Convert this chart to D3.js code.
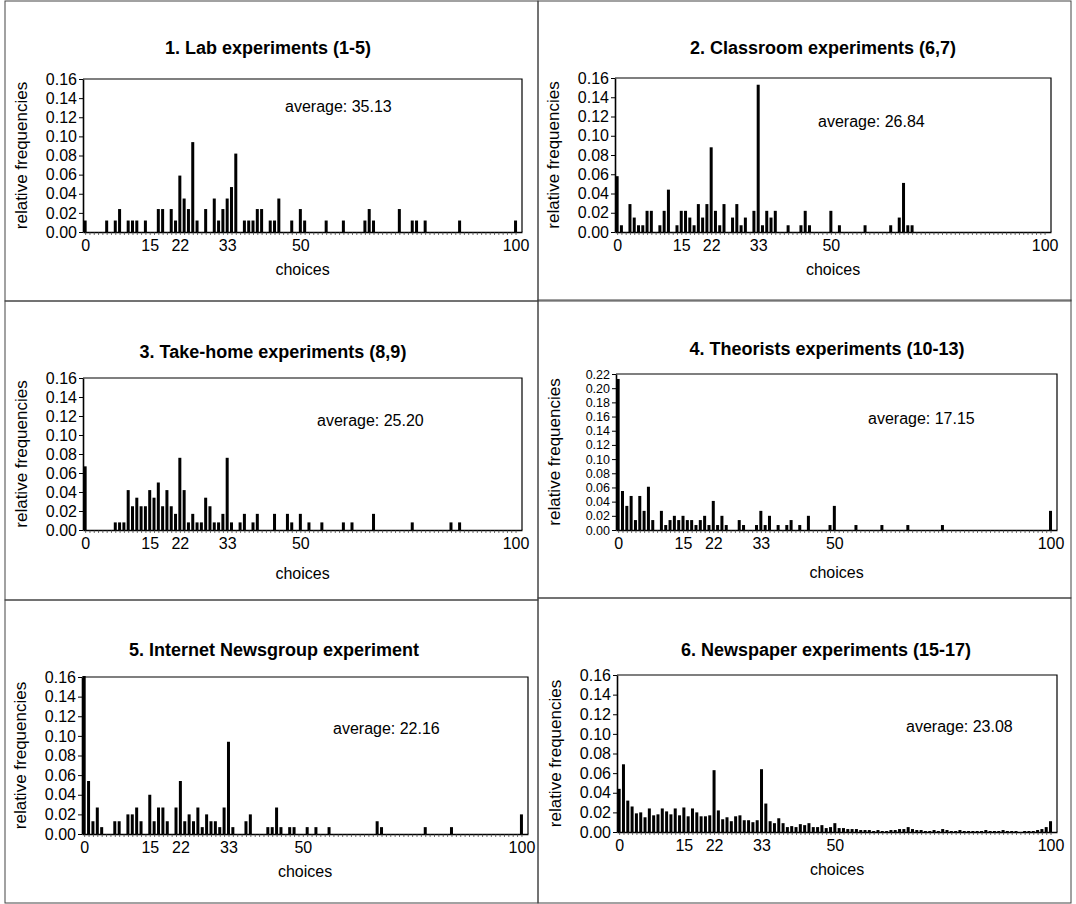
<!DOCTYPE html>
<html>
<head>
<meta charset="utf-8">
<script src="https://cdnjs.cloudflare.com/ajax/libs/d3/7.8.5/d3.min.js"></script>
<style>
  body { margin: 0; background: #fff; }
  svg { font-family: "Liberation Sans", Arial, Helvetica, sans-serif; }
  .axis text { font-size: 16px; fill: #000; }
  .axis .domain { stroke: #000; stroke-width: 1.6; }
  .xaxis .tick line { stroke: #333; stroke-width: 0.7; }
  .yaxis .tick line { stroke: #000; stroke-width: 1; }
</style>
</head>
<body>
<script>
// text of the six panels
var titles = ["1. Lab experiments (1-5)", "2. Classroom experiments (6,7)",
              "3. Take-home experiments (8,9)", "4. Theorists experiments (10-13)",
              "5. Internet Newsgroup experiment", "6. Newspaper experiments (15-17)"];
var averages = ["35.13", "26.84", "25.20", "17.15", "22.16", "23.08"];
var xLabels = [0, 15, 22, 33, 50, 100];
var yTicks16 = [0, 0.02, 0.04, 0.06, 0.08, 0.10, 0.12, 0.14, 0.16];
var yTicks22 = [0, 0.02, 0.04, 0.06, 0.08, 0.10, 0.12, 0.14, 0.16, 0.18, 0.20, 0.22];

// 1. lab experiments
var labChoices = [0, 5, 7, 8, 10, 11, 12, 14, 17, 18, 20, 21, 22, 23, 24, 25, 26, 28, 30, 31, 32, 33, 34, 35,
                  37, 38, 39, 40, 41, 43, 44, 45, 48, 50, 51, 56, 60, 65, 66, 67, 73, 76, 77, 79, 87, 100];
var labFreq = [0.012, 0.012, 0.012, 0.024, 0.012, 0.012, 0.012, 0.012, 0.024, 0.024, 0.024, 0.012, 0.059, 0.035,
               0.024, 0.094, 0.012, 0.024, 0.035, 0.012, 0.024, 0.035, 0.047, 0.082, 0.012, 0.012, 0.012, 0.024,
               0.024, 0.012, 0.012, 0.035, 0.012, 0.024, 0.012, 0.012, 0.012, 0.012, 0.024, 0.012, 0.024, 0.012,
               0.012, 0.012, 0.012, 0.012];

// 2. classroom experiments
var classChoices = [0, 1, 3, 4, 5, 6, 7, 8, 10, 11, 12, 14, 15, 16, 17, 18, 19, 20, 21, 22, 23, 24, 25, 27, 28,
                    29, 30, 32, 33, 34, 35, 36, 37, 40, 43, 44, 45, 50, 52, 58, 64, 66, 67, 68, 69];
var classFreq = [0.058, 0.007, 0.029, 0.015, 0.007, 0.007, 0.022, 0.022, 0.007, 0.022, 0.044, 0.007, 0.022, 0.022,
                 0.015, 0.007, 0.029, 0.015, 0.029, 0.088, 0.022, 0.007, 0.029, 0.015, 0.029, 0.007, 0.015, 0.022,
                 0.153, 0.007, 0.022, 0.015, 0.022, 0.007, 0.007, 0.022, 0.007, 0.022, 0.007, 0.007, 0.007, 0.015,
                 0.051, 0.007, 0.007];

// 3. take-home experiments
var homeChoices = [0, 7, 8, 9, 10, 11, 12, 13, 14, 15, 16, 17, 18, 19, 20, 21, 22, 23, 24, 25, 26, 27, 28, 29, 30,
                   31, 32, 33, 34, 36, 37, 39, 40, 44, 47, 48, 50, 52, 55, 60, 62, 67, 76, 85, 87];
var homeFreq = [0.067, 0.008, 0.008, 0.008, 0.042, 0.025, 0.034, 0.025, 0.025, 0.042, 0.034, 0.050, 0.025, 0.042,
                0.025, 0.017, 0.076, 0.042, 0.008, 0.017, 0.008, 0.008, 0.034, 0.025, 0.008, 0.008, 0.017, 0.076,
                0.008, 0.008, 0.017, 0.008, 0.017, 0.017, 0.017, 0.008, 0.017, 0.008, 0.008, 0.008, 0.008, 0.017,
                0.008, 0.008, 0.008];

// 4. theorists experiments
var theoChoices = [0, 1, 2, 3, 4, 5, 6, 7, 8, 10, 11, 12, 13, 14, 15, 16, 17, 18, 19, 20, 21, 22, 23, 24, 25,
                   28, 29, 32, 33, 34, 35, 37, 39, 40, 42, 44, 49, 50, 55, 61, 67, 75, 100];
var theoFreq = [0.213, 0.055, 0.034, 0.048, 0.014, 0.048, 0.027, 0.061, 0.014, 0.027, 0.007, 0.014, 0.020, 0.014,
                0.020, 0.014, 0.014, 0.007, 0.014, 0.020, 0.007, 0.041, 0.007, 0.020, 0.007, 0.014, 0.007, 0.007,
                0.027, 0.007, 0.020, 0.007, 0.007, 0.014, 0.007, 0.020, 0.007, 0.034, 0.007, 0.007, 0.007, 0.007,
                0.027];

// 5. internet newsgroup experiment
var netChoices = [0, 1, 2, 3, 4, 7, 8, 10, 11, 12, 13, 15, 16, 17, 18, 19, 21, 22, 23, 24, 25, 26, 27, 28, 29, 30,
                  31, 32, 33, 34, 37, 38, 42, 43, 44, 45, 47, 48, 51, 53, 56, 67, 68, 78, 84, 100];
var netFreq = [0.161, 0.054, 0.013, 0.027, 0.007, 0.013, 0.013, 0.020, 0.020, 0.027, 0.013, 0.040, 0.013, 0.027,
               0.027, 0.013, 0.027, 0.054, 0.013, 0.020, 0.013, 0.027, 0.007, 0.020, 0.013, 0.013, 0.007, 0.027,
               0.094, 0.007, 0.013, 0.020, 0.007, 0.007, 0.027, 0.007, 0.007, 0.007, 0.007, 0.007, 0.007, 0.013,
               0.007, 0.007, 0.007, 0.020];

// 6. newspaper experiments
var paperChoices = [0, 1, 2, 3, 4, 5, 6, 7, 8, 9, 10, 11, 12, 13, 14, 15, 16, 17, 18, 19, 20, 21, 22, 23, 24, 25,
                    26, 27, 28, 29, 30, 31, 32, 33, 34, 35, 36, 37, 38, 39, 40, 41, 42, 43, 44, 45, 46, 47, 48, 49,
                    50, 51, 52, 53, 54, 55, 56, 57, 58, 59, 60, 61, 62, 63, 64, 65, 66, 67, 68, 69, 70, 71, 72, 73,
                    74, 75, 76, 77, 78, 79, 80, 81, 82, 83, 84, 85, 86, 87, 88, 89, 90, 91, 92, 94, 95, 96, 97, 98,
                    99, 100];
var paperFreq = [0.044, 0.069, 0.032, 0.026, 0.019, 0.020, 0.015, 0.024, 0.017, 0.018, 0.024, 0.021, 0.018, 0.024,
                 0.017, 0.025, 0.016, 0.024, 0.020, 0.016, 0.016, 0.017, 0.063, 0.022, 0.013, 0.015, 0.011, 0.016,
                 0.017, 0.012, 0.012, 0.010, 0.012, 0.064, 0.029, 0.011, 0.009, 0.014, 0.009, 0.005, 0.006, 0.005,
                 0.008, 0.007, 0.009, 0.005, 0.005, 0.007, 0.004, 0.005, 0.009, 0.004, 0.004, 0.003, 0.003, 0.003,
                 0.002, 0.002, 0.002, 0.001, 0.002, 0.001, 0.001, 0.002, 0.002, 0.003, 0.003, 0.005, 0.003, 0.002,
                 0.002, 0.001, 0.001, 0.002, 0.001, 0.003, 0.002, 0.001, 0.001, 0.002, 0.001, 0.001, 0.001, 0.001,
                 0.001, 0.002, 0.001, 0.001, 0.001, 0.002, 0.001, 0.001, 0.001, 0.001, 0.001, 0.001, 0.002, 0.003,
                 0.005, 0.011];

var panels = [
  {choices: labChoices, freq: labFreq, yTicks: yTicks16},
  {choices: classChoices, freq: classFreq, yTicks: yTicks16},
  {choices: homeChoices, freq: homeFreq, yTicks: yTicks16},
  {choices: theoChoices, freq: theoFreq, yTicks: yTicks22},
  {choices: netChoices, freq: netFreq, yTicks: yTicks16},
  {choices: paperChoices, freq: paperFreq, yTicks: yTicks16}
];

// where each panel sits on the page (yFont: size of the y tick labels)
var layout = [
  {box: [5, 1, 533, 300],   plot: [83, 79, 439, 153],  title: [268, 54],  avg: [285, 112], ch: 43, yFont: 16},
  {box: [538, 1, 533, 300], plot: [615, 78, 436, 154], title: [823, 54],  avg: [818, 127], ch: 43, yFont: 16},
  {box: [5, 301, 533, 299], plot: [83, 378, 439, 152], title: [273, 358], avg: [317, 426], ch: 49, yFont: 16},
  {box: [538, 300, 533, 298], plot: [616, 374, 441, 156], title: [827, 355], avg: [868, 424], ch: 48, yFont: 12.5},
  {box: [5, 600, 533, 303], plot: [82, 677, 446, 157], title: [274, 656], avg: [333, 734], ch: 43, yFont: 16},
  {box: [538, 598, 533, 305], plot: [617, 675, 440, 157], title: [826, 656], avg: [906, 732], ch: 43, yFont: 16}
];

var svg = d3.select("body")
  .append("svg")
   .attr("width", 1076)
   .attr("height", 904);

panels.forEach(function(p, i) {
  var L = layout[i];
  var width = L.plot[2];
  var height = L.plot[3];

  // panel frame
  svg.append("rect")
    .attr("x", L.box[0]).attr("y", L.box[1])
    .attr("width", L.box[2]).attr("height", L.box[3])
    .attr("fill", "none")
    .attr("stroke", "#444")
    .attr("stroke-width", 1);

  // title
  svg.append("text")
    .attr("x", L.title[0]).attr("y", L.title[1])
    .attr("text-anchor", "middle")
    .style("font-size", "18px")
    .style("font-weight", "bold")
    .text(titles[i]);

  var g = svg.append("g")
    .attr("transform", "translate(" + L.plot[0] + "," + L.plot[1] + ")");

  var xscale = d3.scaleLinear()
    .domain([-0.5, 101.5])
    .range([0, width]);

  var yscale = d3.scaleLinear()
    .domain([0, p.yTicks[p.yTicks.length - 1]])
    .range([height, 0]);

  // top and right side of the plot box
  g.append("path")
    .attr("d", "M0,0H" + width + "V" + height)
    .attr("fill", "none")
    .attr("stroke", "#000")
    .attr("stroke-width", 1.2);

  // bars
  var data = p.choices.map(function(c, j) { return [c, p.freq[j]]; });
  g.selectAll("rect.bar")
    .data(data)
    .enter()
    .append("rect")
    .attr("class", "bar")
    .attr("x", function(d) { return xscale(d[0]) - 1.5; })
    .attr("width", 3)
    .attr("y", function(d) { return yscale(d[1]); })
    .attr("height", function(d) { return height - yscale(d[1]); })
    .attr("fill", "#000");

  // x axis, a small tick at every choice
  g.append("g")
    .attr("class", "axis xaxis")
    .attr("transform", "translate(0," + height + ")")
    .call(d3.axisBottom(xscale)
      .tickValues(d3.range(0, 101))
      .tickSize(3)
      .tickSizeOuter(0)
      .tickPadding(5)
      .tickFormat(function(d) { return xLabels.indexOf(d) >= 0 ? d : ""; }));

  // y axis
  g.append("g")
    .attr("class", "axis yaxis")
    .call(d3.axisLeft(yscale)
      .tickValues(p.yTicks)
      .tickSize(4)
      .tickSizeOuter(0)
      .tickPadding(2)
      .tickFormat(d3.format(".2f")))
    .selectAll("text")
      .style("font-size", L.yFont + "px");

  // axis titles
  g.append("text")
    .attr("transform", "rotate(-90)")
    .attr("x", -height / 2)
    .attr("y", -62)
    .attr("dy", "0.35em")
    .attr("text-anchor", "middle")
    .style("font-size", "17px")
    .text("relative frequencies");

  g.append("text")
    .attr("x", width / 2)
    .attr("y", height + L.ch)
    .attr("text-anchor", "middle")
    .style("font-size", "16px")
    .text("choices");

  // average label
  svg.append("text")
    .attr("x", L.avg[0]).attr("y", L.avg[1])
    .style("font-size", "16px")
    .text("average: " + averages[i]);
});
</script>
</body>
</html>
